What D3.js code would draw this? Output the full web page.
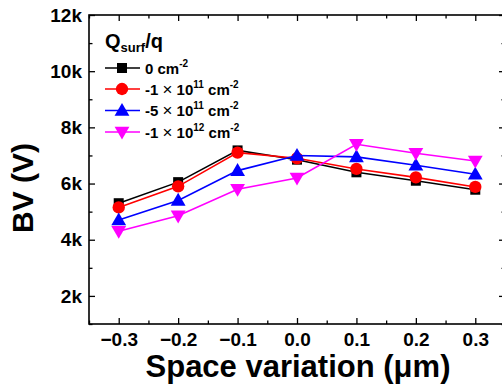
<!DOCTYPE html>
<html><head><meta charset="utf-8">
<script src="https://cdn.jsdelivr.net/npm/d3@7"></script>
<style>
html,body{margin:0;padding:0;background:#fff;}
svg{display:block;font-family:"Liberation Sans",Arial,sans-serif;}
</style></head>
<body>
<svg id="c" width="502" height="387"></svg>
<script>
const xValues = [-0.3, -0.2, -0.1, 0.0, 0.1, 0.2, 0.3];
const bv0 = [5300, 6050, 7180, 6850, 6400, 6100, 5780];
const bvM1e11 = [5150, 5900, 7100, 6900, 6520, 6220, 5880];
const bvM5e11 = [4700, 5400, 6460, 7000, 6950, 6650, 6330];
const bvM1e12 = [4300, 4850, 5800, 6200, 7400, 7080, 6800];
const xTicks = [-0.3, -0.2, -0.1, 0.0, 0.1, 0.2, 0.3];
const yTicks = [2000, 4000, 6000, 8000, 10000, 12000];
const yTickLabels = ["2k", "4k", "6k", "8k", "10k", "12k"];
const seriesNames = [
  {pre: "0 cm", sup1: null, mid: null, sup2: "-2"},
  {pre: "-1 ", sup1: "11", mid: " cm", sup2: "-2"},
  {pre: "-5 ", sup1: "11", mid: " cm", sup2: "-2"},
  {pre: "-1 ", sup1: "12", mid: " cm", sup2: "-2"}
];
const seriesColors = ["#000000", "#ff0000", "#0000ff", "#ff00ff"];
const seriesMarkers = ["square", "circle", "triangle", "triangleDown"];
const seriesData = [bv0, bvM1e11, bvM5e11, bvM1e12];

const svg = d3.select("#c");
const L = 89, R = 505, T = 15, B = 324;
const x = d3.scaleLinear().domain([-0.35, 0.35]).range([L, R]);
const y = d3.scaleLinear().domain([1000, 12000]).range([B, T]);

const fontTick = "19px";
svg.append("rect").attr("x", L).attr("y", T).attr("width", R - L).attr("height", B - T)
  .attr("fill", "none").attr("stroke", "#000").attr("stroke-width", 1.6);

const xMinor = d3.range(-0.35, 0.3501, 0.05).map(v => +v.toFixed(2)).filter(v => !xTicks.some(t => Math.abs(t - v) < 1e-6));
const yMinor = d3.range(1000, 12001, 1000).filter(v => !yTicks.includes(v));

function styleAxis(g) {
  g.select(".domain").remove();
  g.selectAll(".tick line").attr("stroke", "#000").attr("stroke-width", 1.3);
}
function styleText(g) {
  g.selectAll("text").attr("font-size", fontTick).attr("font-weight", "bold").attr("fill", "#000")
    .attr("font-family", "Liberation Sans, Arial, sans-serif");
}
// bottom
svg.append("g").attr("transform", `translate(0,${B})`)
  .call(d3.axisBottom(x).tickValues(xTicks).tickSizeInner(-6).tickSizeOuter(0).tickPadding(9)
    .tickFormat(d3.format(".1f")))
  .call(styleAxis).call(styleText);
svg.append("g").attr("transform", `translate(0,${B})`)
  .call(d3.axisBottom(x).tickValues(xMinor).tickSizeInner(-3.5).tickSizeOuter(0).tickFormat(""))
  .call(styleAxis);
// top
svg.append("g").attr("transform", `translate(0,${T})`)
  .call(d3.axisTop(x).tickValues(xTicks).tickSizeInner(-6).tickSizeOuter(0).tickFormat(""))
  .call(styleAxis);
svg.append("g").attr("transform", `translate(0,${T})`)
  .call(d3.axisTop(x).tickValues(xMinor).tickSizeInner(-3.5).tickSizeOuter(0).tickFormat(""))
  .call(styleAxis);
// left
svg.append("g").attr("transform", `translate(${L},0)`)
  .call(d3.axisLeft(y).tickValues(yTicks).tickSizeInner(-6).tickSizeOuter(0).tickPadding(7)
    .tickFormat((d, i) => yTickLabels[i]))
  .call(styleAxis).call(styleText);
svg.append("g").attr("transform", `translate(${L},0)`)
  .call(d3.axisLeft(y).tickValues(yMinor).tickSizeInner(-3.5).tickSizeOuter(0).tickFormat(""))
  .call(styleAxis);
// right
svg.append("g").attr("transform", `translate(${R},0)`)
  .call(d3.axisRight(y).tickValues(yTicks).tickSizeInner(-6).tickSizeOuter(0).tickFormat(""))
  .call(styleAxis);
svg.append("g").attr("transform", `translate(${R},0)`)
  .call(d3.axisRight(y).tickValues(yMinor).tickSizeInner(-3.5).tickSizeOuter(0).tickFormat(""))
  .call(styleAxis);

function markerPath(type) {
  const sym = {
    square: d3.symbol().type(d3.symbolSquare).size(100),
    circle: d3.symbol().type(d3.symbolCircle).size(120),
    triangle: d3.symbol().type(d3.symbolTriangle).size(95),
    triangleDown: d3.symbol().type(d3.symbolTriangle).size(95)
  };
  return sym[type]();
}
function drawMarker(g, type, cx, cy, color) {
  let t = `translate(${cx},${cy})`;
  if (type === "triangle") t += " translate(0,1)";
  if (type === "triangleDown") t += " translate(0,-1) rotate(180)";
  g.append("path").attr("d", markerPath(type)).attr("transform", t).attr("fill", color);
}

const line = d3.line().x(d => x(d[0])).y(d => y(d[1]));
seriesData.forEach((vals, si) => {
  const pts = xValues.map((xv, i) => [xv, vals[i]]);
  const g = svg.append("g");
  g.append("path").attr("d", line(pts)).attr("fill", "none")
    .attr("stroke", seriesColors[si]).attr("stroke-width", 1.6);
  pts.forEach(p => drawMarker(g, seriesMarkers[si], x(p[0]), y(p[1]), seriesColors[si]));
});

// legend
const lg = svg.append("g");
const title = lg.append("text").attr("x", 105).attr("y", 48).attr("font-size", "20px").attr("font-weight", "bold");
title.append("tspan").text("Q");
title.append("tspan").attr("font-size", "13px").attr("dy", 4).text("surf");
title.append("tspan").attr("dy", -4).text("/q");
const rowY = [68, 89, 110.5, 132];
seriesNames.forEach((s, i) => {
  const ry = rowY[i];
  lg.append("line").attr("x1", 105).attr("x2", 140).attr("y1", ry).attr("y2", ry)
    .attr("stroke", seriesColors[i]).attr("stroke-width", 1.6);
  drawMarker(lg, seriesMarkers[i], 122, ry, seriesColors[i]);
  const t = lg.append("text").attr("x", 145).attr("y", ry + 5.5).attr("font-size", "15px").attr("font-weight", "bold");
  if (s.sup1) {
    t.append("tspan").text(s.pre);
    t.append("tspan").attr("font-weight", "normal").attr("font-size", "17px").text("\u00d7");
    t.append("tspan").text(" 10");
    t.append("tspan").attr("font-size", "10px").attr("dy", -7).text(s.sup1);
    t.append("tspan").attr("dy", 7).text(s.mid);
    t.append("tspan").attr("font-size", "10px").attr("dy", -7).text(s.sup2);
  } else {
    t.append("tspan").text(s.pre);
    t.append("tspan").attr("font-size", "10px").attr("dy", -7).text(s.sup2);
  }
});

// axis titles
svg.append("text").attr("x", 298).attr("y", 377).attr("text-anchor", "middle")
  .attr("font-size", "31px").attr("font-weight", "bold").text("Space variation (\u03bcm)");
svg.append("text").attr("transform", "translate(33,188) rotate(-90)").attr("text-anchor", "middle")
  .attr("font-size", "30px").attr("font-weight", "bold").text("BV (V)");
</script>
</body></html>
